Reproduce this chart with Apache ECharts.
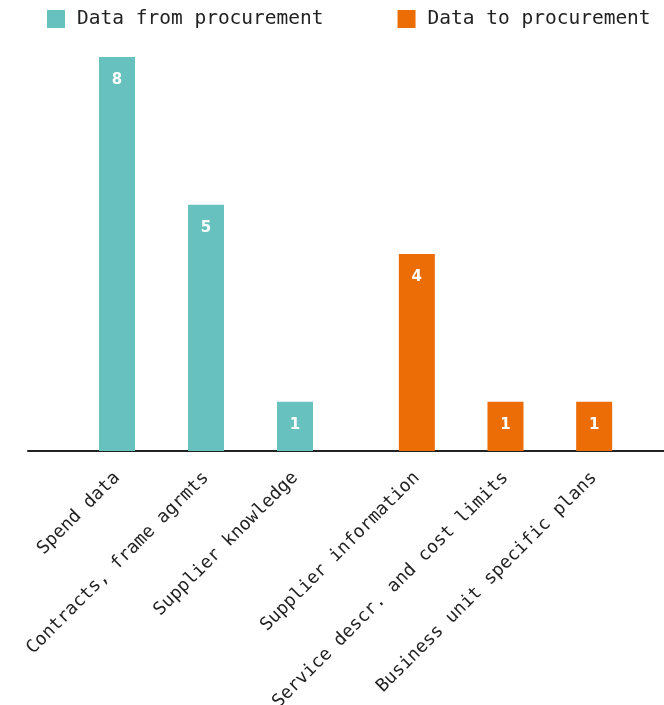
<!DOCTYPE html>
<html>
<head>
<meta charset="utf-8">
<script src="https://cdn.jsdelivr.net/npm/echarts@6/dist/echarts.min.js"></script>
<style>
  html, body { margin: 0; padding: 0; background: #fff; }
  #chart { width: 664px; height: 705px; }
</style>
</head>
<body>
<div id="chart"></div>
<script>
const fromCategories = ['Spend data', 'Contracts, frame agrmts', 'Supplier knowledge']
const toCategories = ['Supplier information', 'Service descr. and cost limits', 'Business unit specific plans']
const fromValues = [8, 5, 1]
const toValues = [4, 1, 1]
const seriesNames = ['Data from procurement', 'Data to procurement']

const TEAL = '#67c2bf'
const ORANGE = '#ec6c05'
const FONT = 'DejaVu Sans Mono'

const chart = echarts.init(document.getElementById('chart'))

const axisLabel = {
  rotate: 45,
  margin: 24,
  color: '#222',
  fontFamily: FONT,
  fontSize: 18,
  interval: 0,
}

const barLabel = {
  show: true,
  position: 'insideTop',
  distance: 16,
  color: '#fff',
  fontFamily: 'DejaVu Sans',
  fontWeight: 'bold',
  fontSize: 15,
}

// three grids: teal group, orange group, and a full-width one just for the base line
const gridBase = { top: 57, bottom: 254, outerBoundsMode: 'none', containLabel: false }

chart.setOption({
  animation: false,
  legend: {
    data: seriesNames,
    left: 47,
    top: 9,
    padding: 0,
    itemWidth: 18,
    itemHeight: 18,
    itemGap: 74,
    icon: 'rect',
    textStyle: { fontFamily: FONT, fontSize: 19.5, color: '#222', padding: [0, 0, 0, 7] },
  },
  grid: [
    { ...gridBase, left: 72.5, width: 267 },
    { ...gridBase, left: 372.5, width: 266 },
    { ...gridBase, left: 28, right: 0 },
  ],
  xAxis: [
    { type: 'category', gridIndex: 0, data: fromCategories, axisLine: { show: false }, axisTick: { show: false }, axisLabel },
    { type: 'category', gridIndex: 1, data: toCategories, axisLine: { show: false }, axisTick: { show: false }, axisLabel },
    {
      type: 'category', gridIndex: 2, data: [''],
      axisLine: { show: true, lineStyle: { color: '#222', width: 2 } },
      axisTick: { show: false }, axisLabel: { show: false },
    },
  ],
  yAxis: [0, 1, 2].map((i) => ({
    type: 'value', gridIndex: i, min: 0, max: 8, show: false,
    splitLine: { show: false },
  })),
  series: [
    {
      name: seriesNames[0],
      type: 'bar',
      xAxisIndex: 0,
      yAxisIndex: 0,
      barWidth: 36,
      data: fromValues,
      itemStyle: { color: TEAL },
      label: barLabel,
    },
    {
      name: seriesNames[1],
      type: 'bar',
      xAxisIndex: 1,
      yAxisIndex: 1,
      barWidth: 36,
      data: toValues,
      itemStyle: { color: ORANGE },
      label: barLabel,
    },
  ],
})

window.addEventListener('resize', () => chart.resize())
</script>
</body>
</html>
